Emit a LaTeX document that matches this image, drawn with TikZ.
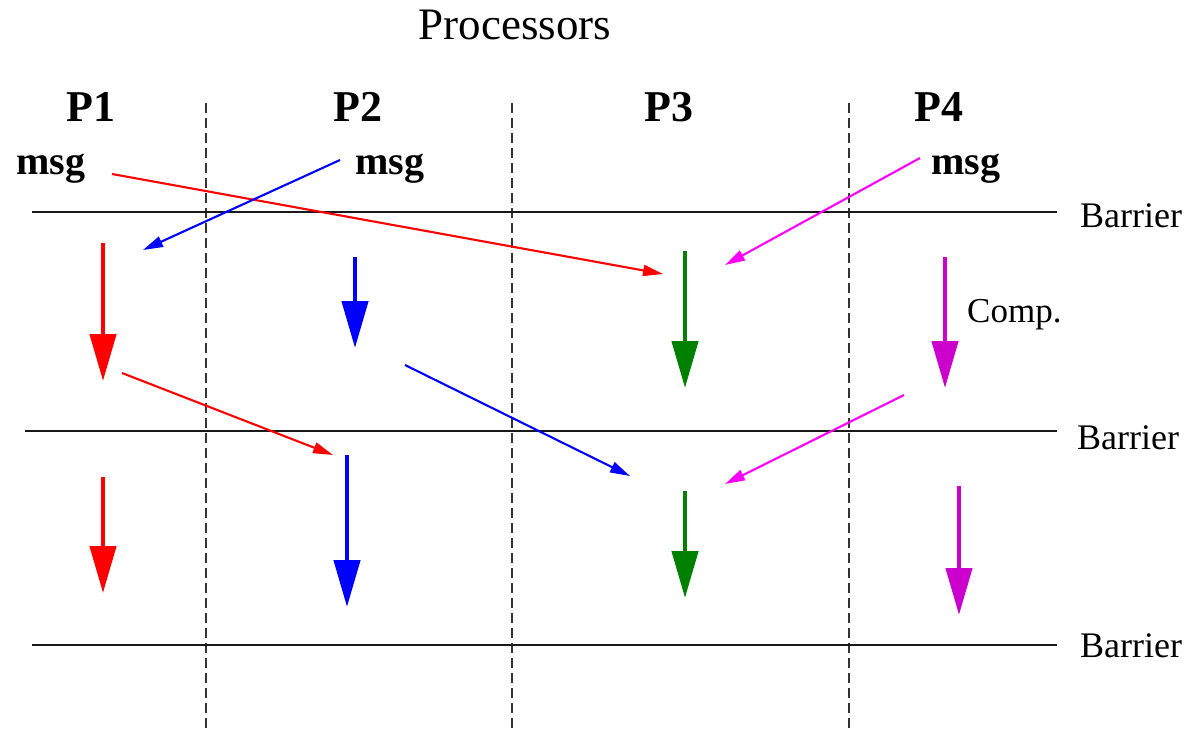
\documentclass[tikz,border=0pt]{standalone}
\usepackage{fontspec}
\setmainfont{Liberation Serif}
\usetikzlibrary{arrows.meta}
\definecolor{cred}{RGB}{255,0,0}
\definecolor{cblue}{RGB}{0,0,255}
\definecolor{cgreen}{RGB}{0,128,0}
\definecolor{cmag}{RGB}{204,0,204}
\definecolor{cpink}{RGB}{255,0,255}
\begin{document}
\begin{tikzpicture}[x=1pt,y=-1pt,
  comp/.style={line width=4.5pt,-{Triangle[length=47pt,width=26pt]}},
  msgarrow/.style={line width=2.1pt,-{Triangle[length=20pt,width=11pt]}},
  barrierline/.style={line width=2.8pt,black!90},
  divider/.style={line width=2.8pt,black!80,dash pattern=on 10pt off 5pt},
  lbl/.style={inner sep=0pt,anchor=base},
  lblw/.style={inner sep=0pt,anchor=base west},
  proc/.style={lbl,font=\bfseries\fontsize{44}{48}\selectfont},
  msgtext/.style={lbl,font=\bfseries\fontsize{40}{44}\selectfont},
  bartext/.style={lblw,font=\fontsize{36}{40}\selectfont},
]
\useasboundingbox (0,0) rectangle (1191,731);

% title and processor labels
\node[lbl,font=\fontsize{45}{50}\selectfont] (title) at (515,39) {Processors};
\node[proc] (p1) at (91,121) {P1};
\node[proc] (p2) at (358,121) {P2};
\node[proc] (p3) at (669,121) {P3};
\node[proc] (p4) at (939,121) {P4};

% msg labels
\node[msgtext] (m1) at (51,174) {msg};
\node[msgtext] (m2) at (390,174) {msg};
\node[msgtext] (m4) at (966,174) {msg};

% barrier labels
\node[bartext] (b1) at (1080,227) {Barrier};
\node[bartext] (b2) at (1077,449) {Barrier};
\node[bartext] (b3) at (1080,657) {Barrier};
\node[bartext,font=\fontsize{35}{40}\selectfont] (comp) at (967,322) {Comp.};

% dividers
\coordinate (d1t) at (206,103); \coordinate (d1b) at (206,731);
\coordinate (d2t) at (512,103); \coordinate (d2b) at (512,731);
\coordinate (d3t) at (849,103); \coordinate (d3b) at (849,731);
\draw[divider] (d1t) -- (d1b);
\draw[divider] (d2t) -- (d2b);
\draw[divider] (d3t) -- (d3b);

% barriers
\coordinate (l1a) at (32,212);  \coordinate (l1b) at (1057,212);
\coordinate (l2a) at (25,431);  \coordinate (l2b) at (1057,431);
\coordinate (l3a) at (32,645);  \coordinate (l3b) at (1057,645);
\draw[barrierline] (l1a) -- (l1b);
\draw[barrierline] (l2a) -- (l2b);
\draw[barrierline] (l3a) -- (l3b);

% first superstep messages
\coordinate (r1s) at (112,174); \coordinate (r1e) at (663,274);
\coordinate (u1s) at (340,160); \coordinate (u1e) at (143,250);
\coordinate (k1s) at (920,158); \coordinate (k1e) at (725,265);
\draw[msgarrow,cred] (r1s) -- (r1e);
\draw[msgarrow,cblue] (u1s) -- (u1e);
\draw[msgarrow,cpink] (k1s) -- (k1e);

% first computation
\coordinate (c11s) at (103,243); \coordinate (c11e) at (103,381);
\coordinate (c12s) at (355,257); \coordinate (c12e) at (355,348);
\coordinate (c13s) at (685,251); \coordinate (c13e) at (685,388);
\coordinate (c14s) at (945,257); \coordinate (c14e) at (945,388);
\draw[comp,cred] (c11s) -- (c11e);
\draw[comp,cblue] (c12s) -- (c12e);
\draw[comp,cgreen] (c13s) -- (c13e);
\draw[comp,cmag] (c14s) -- (c14e);

% second superstep messages
\coordinate (r2s) at (122,373); \coordinate (r2e) at (333,455);
\coordinate (u2s) at (405,365); \coordinate (u2e) at (630,476);
\coordinate (k2s) at (904,395); \coordinate (k2e) at (725,484);
\draw[msgarrow,cred] (r2s) -- (r2e);
\draw[msgarrow,cblue] (u2s) -- (u2e);
\draw[msgarrow,cpink] (k2s) -- (k2e);

% second computation
\coordinate (c21s) at (103,477); \coordinate (c21e) at (103,593);
\coordinate (c22s) at (347,455); \coordinate (c22e) at (347,607);
\coordinate (c23s) at (685,491); \coordinate (c23e) at (685,598);
\coordinate (c24s) at (959,486); \coordinate (c24e) at (959,615);
\draw[comp,cred] (c21s) -- (c21e);
\draw[comp,cblue] (c22s) -- (c22e);
\draw[comp,cgreen] (c23s) -- (c23e);
\draw[comp,cmag] (c24s) -- (c24e);
\end{tikzpicture}
\end{document}
